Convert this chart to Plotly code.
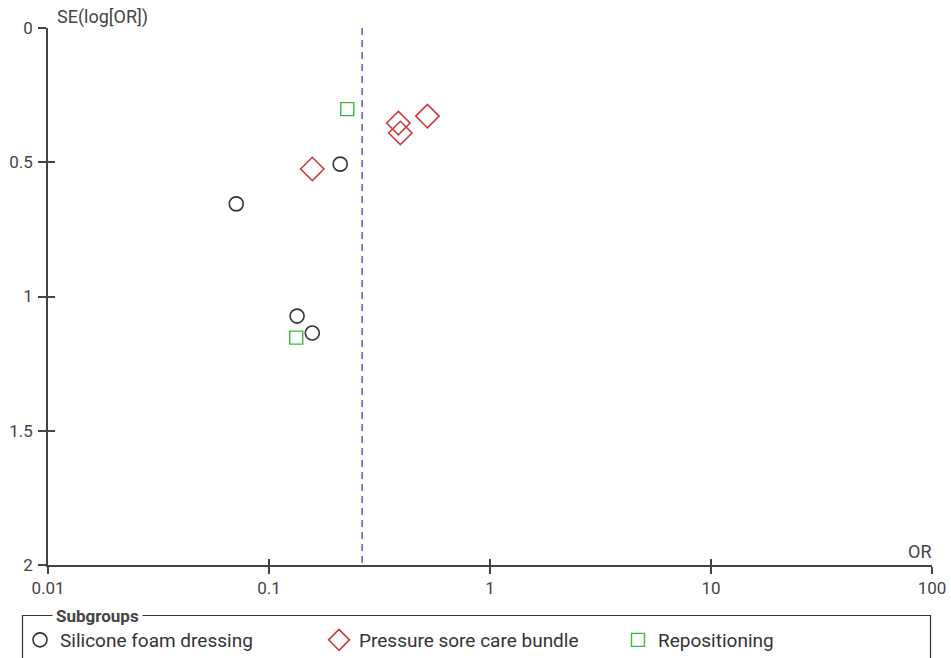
import plotly.graph_objects as go

# ---- data ----
silicone_or = [0.0711, 0.210, 0.134, 0.157]
silicone_se = [0.655, 0.507, 1.073, 1.136]
bundle_or = [0.157, 0.385, 0.393, 0.521]
bundle_se = [0.525, 0.354, 0.391, 0.328]
repos_or = [0.226, 0.1328]
repos_se = [0.302, 1.153]
pooled_or = 0.264
se_range = [0, 2]
x_ticks = [0.01, 0.1, 1, 10, 100]
x_tick_labels = ["0.01", "0.1", "1", "10", "100"]
y_ticks = [0, 0.5, 1, 1.5, 2]
y_tick_labels = ["0", "0.5", "1", "1.5", "2"]

FONT = "Roboto, Liberation Sans, Arial, sans-serif"
AX = "#444444"

# plot area geometry in px
L, R, T, B = 48, 932, 28, 565
PW, PH = R - L, B - T


def px_x(p):
    return (p - L) / PW


def px_y(p):
    return (B - p) / PH


fig = go.Figure()

fig.add_trace(go.Scatter(
    x=[pooled_or, pooled_or], y=se_range, mode="lines",
    line=dict(color="#5560b4", width=1.5, dash="7px,5px"),
    showlegend=False, hoverinfo="skip"))

fig.add_trace(go.Scatter(
    x=silicone_or, y=silicone_se, mode="markers", name="Silicone foam dressing",
    marker=dict(symbol="circle-open", size=14, color="#333333", line=dict(width=1.6))))
fig.add_trace(go.Scatter(
    x=bundle_or, y=bundle_se, mode="markers", name="Pressure sore care bundle",
    marker=dict(symbol="diamond-open", size=18, color="#cc3b3b", line=dict(width=1.6))))
fig.add_trace(go.Scatter(
    x=repos_or, y=repos_se, mode="markers", name="Repositioning",
    marker=dict(symbol="square-open", size=13, color="#3cb83c", line=dict(width=1.4))))

# invisible trace to activate overlay axes (ticks crossing the axis lines)
fig.add_trace(go.Scatter(x=[1], y=[1], xaxis="x2", yaxis="y2", mode="markers",
                         marker=dict(opacity=0), showlegend=False, hoverinfo="skip"))

fig.update_layout(
    width=951, height=658,
    margin=dict(l=L, r=951 - R, t=T, b=658 - B, autoexpand=False),
    paper_bgcolor="white", plot_bgcolor="white",
    font=dict(family=FONT, size=16, color=AX),
    xaxis=dict(type="log", range=[-2, 2], tickvals=x_ticks, ticktext=x_tick_labels,
               showgrid=False, zeroline=False, showline=True, linecolor=AX, linewidth=1.5,
               ticks="outside", ticklen=7, tickcolor=AX, tickwidth=1.5,
               tickfont=dict(size=17, color=AX), ticklabelstandoff=0),
    yaxis=dict(range=[2, 0], tickvals=y_ticks, ticktext=y_tick_labels,
               showgrid=False, zeroline=False, showline=True, linecolor=AX, linewidth=1.5,
               ticks="outside", ticklen=8, tickcolor=AX, tickwidth=1.5,
               tickfont=dict(size=17, color=AX), ticklabelstandoff=2),
    xaxis2=dict(type="log", range=[-2, 2], overlaying="x", anchor="y2", side="bottom",
                tickvals=x_ticks, showticklabels=False, ticks="inside", ticklen=6,
                tickcolor=AX, tickwidth=1.5, showgrid=False, zeroline=False, showline=False),
    yaxis2=dict(range=[2, 0], overlaying="y", anchor="x2", side="left",
                tickvals=y_ticks, showticklabels=False, ticks="inside", ticklen=7,
                tickcolor=AX, tickwidth=1.5, showgrid=False, zeroline=False, showline=False),
    showlegend=True,
    legend=dict(orientation="h", x=px_x(20), y=px_y(640), yanchor="middle",
                entrywidth=254, entrywidthmode="pixels", bgcolor="rgba(0,0,0,0)",
                font=dict(size=19, color="#333333"), itemsizing="trace",
                tracegroupgap=0, itemclick=False, itemdoubleclick=False),
)

# legend box
fig.add_shape(type="rect", xref="paper", yref="paper",
              x0=px_x(22.5), x1=px_x(930.5), y0=px_y(700), y1=px_y(615.5),
              line=dict(color="#333333", width=1.2), fillcolor="rgba(0,0,0,0)", layer="below")

fig.add_annotation(xref="paper", yref="paper", x=px_x(52), y=px_y(616),
                   text="<b>Subgroups</b>", showarrow=False, xanchor="left", yanchor="middle",
                   bgcolor="white", borderpad=3, font=dict(size=17, color="#444444"))
fig.add_annotation(xref="paper", yref="paper", x=px_x(55), y=px_y(17),
                   text="SE(log[OR])", showarrow=False, xanchor="left", yanchor="middle",
                   font=dict(size=18, color=AX))
fig.add_annotation(xref="paper", yref="paper", x=px_x(933), y=px_y(551),
                   text="OR", showarrow=False, xanchor="right", yanchor="middle",
                   font=dict(size=18, color=AX))

fig.write_html("out.html", config={"displayModeBar": False},
               post_script="document.body.style.margin='0';")
